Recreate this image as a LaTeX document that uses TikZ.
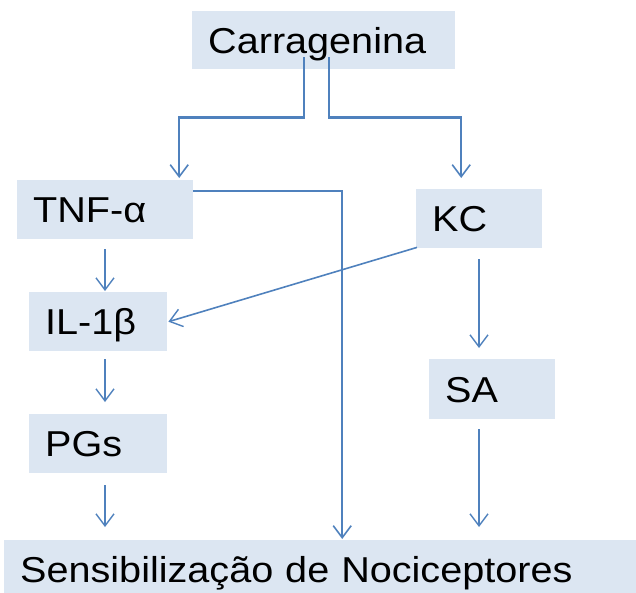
\documentclass[tikz,border=0pt]{standalone}
\usepackage{fontspec}
\setmainfont{Liberation Sans}[FakeStretch=1.1]
\usetikzlibrary{arrows.meta,calc}
\definecolor{boxfill}{HTML}{DCE6F2}
\definecolor{linec}{HTML}{4F81BD}
\tikzset{
  boxnode/.style={fill=boxfill, inner xsep=16pt, inner ysep=0pt, text height=26pt, text depth=0pt,
    anchor=north west, align=left, font=\fontsize{36}{40}\selectfont},
  conn/.style={draw=linec, line width=1.6pt, -{Straight Barb[length=12pt,width=18pt,line width=1.4pt]}},
  thickconn/.style={draw=linec, line width=2.3pt, -{Straight Barb[length=12pt,width=18pt,line width=1.6pt]}},
}
\begin{document}
\begin{tikzpicture}[x=1pt,y=-1pt]
\useasboundingbox (0,0) rectangle (636,592);
\node[boxnode, text width=231pt, minimum height=58pt] (carr) at (192,11) {Carragenina};
\node[boxnode, text width=144pt, minimum height=59pt] (tnf) at (17,180) {TNF-α};
\node[boxnode, text width=94pt, minimum height=59pt] (kc) at (416,189) {KC};
\node[boxnode, text width=106pt, minimum height=59pt] (il) at (29,292) {IL-1β};
\node[boxnode, text width=94pt, minimum height=60pt] (sa) at (429,359) {SA};
\node[boxnode, text width=106pt, minimum height=59pt] (pgs) at (29,414) {PGs};
\node[boxnode, text width=604pt, minimum height=58pt] (sens) at (4,540) {Sensibilização de Nociceptores};
\coordinate (colL) at (105,0);
\coordinate (colR) at (479,0);
% Carragenina branches
\draw[thickconn] ($(carr.south)+(-19.5,-12)$) -- ++(0,60) -| ($(tnf.north)+(74,-2)$);
\draw[thickconn] ($(carr.south)+(5.5,-12)$) -- ++(0,60) -| ($(kc.north)+(-18,-11)$);
% TNF to sensibilizacao
\draw[thickconn] ($(tnf.north east)+(0,11)$) -| ($(sens.north)+(20,-1)$);
% left column
\draw[conn] ($(tnf.south -| colL)+(0,10)$) -- ($(il.north -| colL)+(0,-1)$);
\draw[conn] ($(il.south -| colL)+(0,8)$) -- ($(pgs.north -| colL)+(0,-12)$);
\draw[conn] ($(pgs.south -| colL)+(0,12)$) -- ($(sens.north -| colL)+(0,-13)$);
% KC
\draw[conn] ($(kc.south west)+(1,-1)$) -- ($(il.east)+(1,0)$);
\draw[conn, line width=2.2pt] ($(kc.south -| colR)+(0,11)$) -- ($(sa.north -| colR)+(0,-11)$);
\draw[conn, line width=2.2pt] ($(sa.south -| colR)+(0,10)$) -- ($(sens.north -| colR)+(0,-13)$);
\end{tikzpicture}
\end{document}
